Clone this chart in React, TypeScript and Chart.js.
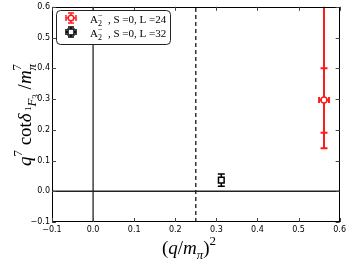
import React, { useEffect, useRef } from "react";
import { Chart, registerables } from "chart.js";

Chart.register(...registerables);

// ---- data ----
const xTicks = [-0.1, 0.0, 0.1, 0.2, 0.3, 0.4, 0.5, 0.6];
const yTicks = [-0.1, 0.0, 0.1, 0.2, 0.3, 0.4, 0.5, 0.6];
const thresholdX = 0.25;

const redLabel = "L =24";
const redX = [0.562];
const redY = [0.297];
const redXErr = [0.012];
const redYLoInner = [0.19];
const redYHiInner = [0.40];
const redYLoOuter = [0.14];
const redYHiOuter = [0.95];

const blackLabel = "L =32";
const blackX = [0.312];
const blackY = [0.036];
const blackYLo = [0.016];
const blackYHi = [0.056];

const RED = "#ff1a1a";
const BLACK = "#000000";
const SERIF = "'Liberation Serif', 'DejaVu Serif', serif";

type Seg = { t?: string; it?: boolean; size: number; dy?: number; sup?: Seg; sub?: Seg };

function segFont(s: Seg) {
  return `${s.it ? "italic " : ""}${s.size}px ${SERIF}`;
}
function segWidth(ctx: CanvasRenderingContext2D, s: Seg): number {
  if (s.sup || s.sub) {
    return Math.max(s.sup ? segWidth(ctx, s.sup) : 0, s.sub ? segWidth(ctx, s.sub) : 0);
  }
  ctx.font = segFont(s);
  return ctx.measureText(s.t || "").width;
}
function drawSeg(ctx: CanvasRenderingContext2D, s: Seg, x: number, y: number) {
  if (s.sup || s.sub) {
    if (s.sup) drawSeg(ctx, s.sup, x, y);
    if (s.sub) drawSeg(ctx, s.sub, x, y);
    return;
  }
  ctx.font = segFont(s);
  ctx.fillText(s.t || "", x, y + (s.dy || 0));
}
function drawRich(ctx: CanvasRenderingContext2D, segs: Seg[], x: number, y: number, align: "left" | "center") {
  ctx.textAlign = "left";
  ctx.textBaseline = "alphabetic";
  const total = segs.reduce((a, s) => a + segWidth(ctx, s), 0);
  let cx = align === "center" ? x - total / 2 : x;
  for (const s of segs) {
    const w = segWidth(ctx, s);
    drawSeg(ctx, s, cx, y);
    cx += w;
  }
}

const yTitle: Seg[] = [
  { t: "q", it: true, size: 19 },
  { t: "7", size: 13, dy: -9 },
  { t: " cot", size: 19 },
  { t: "δ", it: true, size: 19 },
  { t: " 1", size: 9, dy: 0 },
  { t: "F", it: true, size: 13, dy: 5 },
  { t: "3", size: 9, dy: 7 },
  { t: " /", size: 19 },
  { t: "m", it: true, size: 19 },
  { size: 13, sup: { t: "7", size: 13, dy: -10 }, sub: { t: "π", it: true, size: 13, dy: 5 } },
];
const xTitle: Seg[] = [
  { t: "(", size: 19 },
  { t: "q", it: true, size: 19 },
  { t: "/", size: 19 },
  { t: "m", it: true, size: 19 },
  { t: "π", it: true, size: 13, dy: 5 },
  { t: ")", size: 19 },
  { t: "2", size: 13, dy: -9 },
];
function legendText(l: string): Seg[] {
  return [
    { t: "A", size: 11 },
    { size: 8, sup: { t: "−", size: 8, dy: -5 }, sub: { t: "2", size: 8, dy: 3 } },
    { t: "  , S =0, " + l, size: 11 },
  ];
}

function errBar(ctx: CanvasRenderingContext2D, x: number, y0: number, y1: number, cap: number) {
  ctx.beginPath();
  ctx.moveTo(x, y0);
  ctx.lineTo(x, y1);
  ctx.moveTo(x - cap, y0);
  ctx.lineTo(x + cap, y0);
  ctx.moveTo(x - cap, y1);
  ctx.lineTo(x + cap, y1);
  ctx.stroke();
}
function errBarH(ctx: CanvasRenderingContext2D, y: number, x0: number, x1: number, cap: number) {
  ctx.beginPath();
  ctx.moveTo(x0, y);
  ctx.lineTo(x1, y);
  ctx.moveTo(x0, y - cap);
  ctx.lineTo(x0, y + cap);
  ctx.moveTo(x1, y - cap);
  ctx.lineTo(x1, y + cap);
  ctx.stroke();
}

const decorPlugin = {
  id: "decor",
  beforeDatasetsDraw(chart: any) {
    const { ctx, chartArea: a, scales } = chart;
    const xs = scales.x, ys = scales.y;
    ctx.save();
    ctx.beginPath();
    ctx.rect(a.left, a.top, a.right - a.left, a.bottom - a.top);
    ctx.clip();
    ctx.lineWidth = 2;
    ctx.strokeStyle = RED;
    for (let i = 0; i < redX.length; i++) {
      const px = xs.getPixelForValue(redX[i]);
      errBar(ctx, px, ys.getPixelForValue(redYLoOuter[i]), ys.getPixelForValue(redYHiOuter[i]), 3.5);
      errBar(ctx, px, ys.getPixelForValue(redYLoInner[i]), ys.getPixelForValue(redYHiInner[i]), 3.5);
      const py = ys.getPixelForValue(redY[i]);
      errBarH(ctx, py, xs.getPixelForValue(redX[i] - redXErr[i]), xs.getPixelForValue(redX[i] + redXErr[i]), 3);
    }
    ctx.strokeStyle = BLACK;
    ctx.lineWidth = 1.5;
    for (let i = 0; i < blackX.length; i++) {
      const px = xs.getPixelForValue(blackX[i]);
      errBar(ctx, px, ys.getPixelForValue(blackYLo[i]), ys.getPixelForValue(blackYHi[i]), 3.5);
    }
    ctx.restore();
  },
  afterDraw(chart: any) {
    const { ctx, chartArea: a, scales } = chart;
    const xs = scales.x, ys = scales.y;
    ctx.save();
    // frame
    ctx.strokeStyle = "#000";
    ctx.lineWidth = 1;
    ctx.strokeRect(Math.round(a.left) + 0.5, Math.round(a.top) + 0.5, Math.round(a.right - a.left) - 1, Math.round(a.bottom - a.top) - 1);
    // inward ticks
    ctx.strokeStyle = "#444";
    const tl = 4;
    ctx.beginPath();
    for (const v of xTicks) {
      const px = Math.round(xs.getPixelForValue(v)) + 0.5;
      ctx.moveTo(px, a.bottom);
      ctx.lineTo(px, a.bottom - tl);
      ctx.moveTo(px, a.top);
      ctx.lineTo(px, a.top + tl);
    }
    for (const v of yTicks) {
      const py = Math.round(ys.getPixelForValue(v)) + 0.5;
      ctx.moveTo(a.left, py);
      ctx.lineTo(a.left + tl, py);
      ctx.moveTo(a.right, py);
      ctx.lineTo(a.right - tl, py);
    }
    ctx.stroke();

    // legend
    const lx = 56.5, ly = 10.5, lw = 114, lh = 34, r = 4;
    ctx.fillStyle = "#fff";
    ctx.strokeStyle = "#222";
    ctx.lineWidth = 1;
    ctx.beginPath();
    ctx.moveTo(lx + r, ly);
    ctx.arcTo(lx + lw, ly, lx + lw, ly + lh, r);
    ctx.arcTo(lx + lw, ly + lh, lx, ly + lh, r);
    ctx.arcTo(lx, ly + lh, lx, ly, r);
    ctx.arcTo(lx, ly, lx + lw, ly, r);
    ctx.closePath();
    ctx.fill();
    ctx.stroke();
    // red legend marker
    const mx = 71, my1 = 18, my2 = 32;
    ctx.strokeStyle = RED;
    ctx.lineWidth = 1.5;
    errBar(ctx, mx, my1 - 5, my1 + 5, 3);
    errBarH(ctx, my1, mx - 5, mx + 5, 3);
    ctx.fillStyle = "#fff";
    ctx.beginPath();
    ctx.arc(mx, my1, 2.8, 0, Math.PI * 2);
    ctx.fill();
    ctx.stroke();
    // black legend marker
    ctx.strokeStyle = BLACK;
    errBar(ctx, mx, my2 - 5, my2 + 5, 3);
    errBarH(ctx, my2, mx - 5, mx + 5, 3);
    ctx.fillStyle = "#fff";
    ctx.fillRect(mx - 3, my2 - 3, 6, 6);
    ctx.strokeRect(mx - 3, my2 - 3, 6, 6);
    ctx.fillStyle = "#000";
    drawRich(ctx, legendText(redLabel), 90, 23, "left");
    drawRich(ctx, legendText(blackLabel), 90, 37, "left");

    // axis titles
    drawRich(ctx, xTitle, 189, 254, "center");
    ctx.translate(31, 115);
    ctx.rotate(-Math.PI / 2);
    drawRich(ctx, yTitle, 0, 0, "center");
    ctx.restore();
  },
};

const fmt = (v: number) => (Math.abs(v) < 1e-9 ? "0.0" : v.toFixed(1).replace("-", "−"));

export default function App() {
  const ref = useRef<HTMLCanvasElement | null>(null);
  useEffect(() => {
    if (!ref.current) return;
    const chart = new Chart(ref.current, {
      type: "scatter",
      data: {
        datasets: [
          {
            data: [{ x: 0, y: yTicks[0] }, { x: 0, y: yTicks[yTicks.length - 1] }],
            showLine: true, borderColor: "#222", borderWidth: 1.3, pointRadius: 0,
          } as any,
          {
            data: [{ x: xTicks[0], y: 0 }, { x: xTicks[xTicks.length - 1], y: 0 }],
            showLine: true, borderColor: "#222", borderWidth: 1.3, pointRadius: 0,
          },
          {
            data: [{ x: thresholdX, y: yTicks[0] }, { x: thresholdX, y: yTicks[yTicks.length - 1] }],
            showLine: true, borderColor: "#000", borderWidth: 1.2, borderDash: [4, 3], pointRadius: 0,
          },
          {
            label: redLabel,
            data: redX.map((x, i) => ({ x, y: redY[i] })),
            pointStyle: "circle", pointRadius: 3, borderColor: RED, backgroundColor: "#fff", borderWidth: 1.5,
          },
          {
            label: blackLabel,
            data: blackX.map((x, i) => ({ x, y: blackY[i] })),
            pointStyle: "rect", pointRadius: 4, borderColor: BLACK, backgroundColor: "#fff", borderWidth: 1.5,
          },
        ],
      },
      options: {
        animation: false,
        responsive: false,
        maintainAspectRatio: false,
        layout: { padding: { left: 0, top: 5, right: 7, bottom: 0 } },
        plugins: { legend: { display: false }, tooltip: { enabled: false } },
        scales: {
          x: {
            type: "linear", min: xTicks[0], max: xTicks[xTicks.length - 1],
            afterFit: (s: any) => { s.height = 38; },
            afterBuildTicks: (s: any) => { s.ticks = xTicks.map((v) => ({ value: v })); },
            grid: { display: false, drawTicks: false },
            border: { display: false },
            ticks: { callback: (v: any) => fmt(Number(v)), autoSkip: false, maxRotation: 0, padding: 3, color: "#000", font: { family: "'DejaVu Sans', sans-serif", size: 8 } },
          },
          y: {
            type: "linear", min: yTicks[0], max: yTicks[yTicks.length - 1],
            afterFit: (s: any) => { s.width = 52; },
            afterBuildTicks: (s: any) => { s.ticks = yTicks.map((v) => ({ value: v })); },
            grid: { display: false, drawTicks: false },
            border: { display: false },
            ticks: { callback: (v: any) => fmt(Number(v)), autoSkip: false, padding: 2, color: "#000", font: { family: "'DejaVu Sans', sans-serif", size: 8 } },
          },
        },
      } as any,
      plugins: [decorPlugin],
    });
    return () => chart.destroy();
  }, []);
  return (
    <div style={{ position: "absolute", left: 0, top: 0, width: 349, height: 260, background: "#fff" }}>
      <canvas ref={ref} width={349} height={260} style={{ width: 349, height: 260 }} />
    </div>
  );
}
